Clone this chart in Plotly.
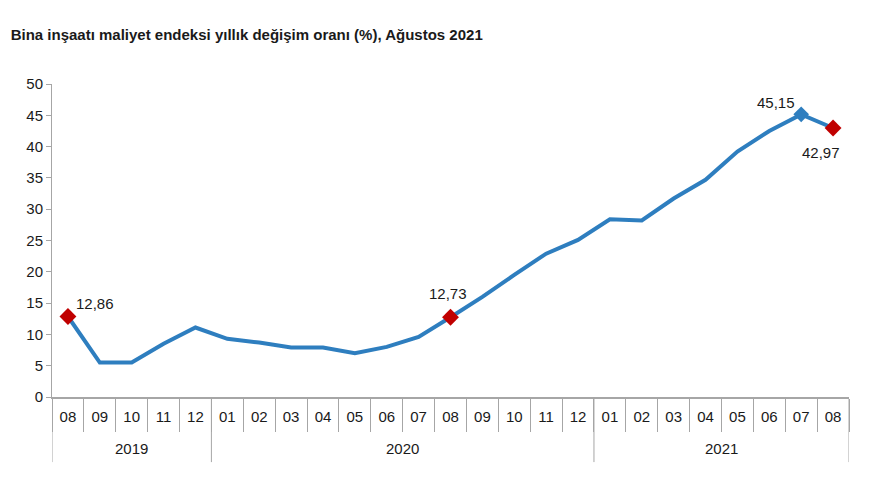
import plotly.graph_objects as go

years = ["2019"] * 5 + ["2020"] * 12 + ["2021"] * 8
months = ["08", "09", "10", "11", "12",
          "01", "02", "03", "04", "05", "06", "07", "08", "09", "10", "11", "12",
          "01", "02", "03", "04", "05", "06", "07", "08"]
values = [12.86, 5.5, 5.5, 8.5, 11.1,
          9.3, 8.7, 7.9, 7.9, 7.0, 8.0, 9.6, 12.73, 16.0, 19.5, 22.9, 25.1,
          28.4, 28.2, 31.7, 34.7, 39.2, 42.5, 45.15, 42.97]
labels = {0: "12,86", 12: "12,73", 23: "45,15", 24: "42,97"}
label_offset = {0: (27, 13), 12: (-3, 24), 23: (-25, 12), 24: (-12, -24)}
red_idx = [0, 12, 24]
blue_idx = [23]

FONT = "Liberation Sans, Arial"
BLUE = "#2E7EBF"
RED = "#C00000"
GRAY = "#a6a6a6"
TXT = "#1a1a1a"

xs = list(range(len(months)))

fig = go.Figure()
fig.add_trace(go.Scatter(
    x=xs, y=values, mode="lines",
    line=dict(color=BLUE, width=4), hoverinfo="skip", showlegend=False))
fig.add_trace(go.Scatter(
    x=[xs[i] for i in blue_idx], y=[values[i] for i in blue_idx], mode="markers",
    marker=dict(symbol="diamond", size=12, color=BLUE), showlegend=False))
fig.add_trace(go.Scatter(
    x=[xs[i] for i in red_idx], y=[values[i] for i in red_idx], mode="markers",
    marker=dict(symbol="diamond", size=13, color=RED), showlegend=False))

for i, t in labels.items():
    dx, dy = label_offset[i]
    fig.add_annotation(x=xs[i], y=values[i], text=t, showarrow=False,
                       xshift=dx, yshift=dy, xanchor="center", yanchor="middle",
                       font=dict(family=FONT, size=15, color=TXT))

# year groups: labels and dividers
groups = []
for i, yv in enumerate(years):
    if not groups or groups[-1][0] != yv:
        groups.append([yv, i, i])
    else:
        groups[-1][2] = i

bottom = -0.208
for yv, a, b in groups:
    fig.add_annotation(x=(a + b) / 2, y=-0.165, xref="x", yref="paper",
                       text=yv, showarrow=False, yanchor="middle",
                       font=dict(family=FONT, size=15, color=TXT))
boundaries = sorted(set([g[1] - 0.5 for g in groups] + [groups[-1][2] + 0.5]))
for bx in boundaries:
    fig.add_shape(type="line", xref="x", yref="paper", x0=bx, x1=bx, y0=0, y1=bottom,
                  line=dict(color=GRAY, width=1))

fig.update_layout(
    width=880, height=495,
    margin=dict(l=44, r=39, t=76, b=106),
    paper_bgcolor="white", plot_bgcolor="white",
    font=dict(family=FONT, size=15, color=TXT),
    title=dict(text="<b>Bina inşaatı maliyet endeksi yıllık değişim oranı (%), Ağustos 2021</b>",
               x=0.003, xanchor="left", y=0.946, yanchor="middle",
               font=dict(family=FONT, size=15, color=TXT)),
)
fig.update_xaxes(
    range=[-0.5, len(months) - 0.5], tickmode="array", tickvals=xs, ticktext=months,
    showline=True, linecolor=GRAY, linewidth=1.5, ticks="", showgrid=False, zeroline=False,
    tickfont=dict(family=FONT, size=15, color=TXT), ticklabelstandoff=5,
    minor=dict(tickmode="array", tickvals=[i - 0.5 for i in range(len(months) + 1)],
               ticks="outside", ticklen=33, tickcolor=GRAY, tickwidth=1, showgrid=False))
fig.update_yaxes(
    range=[0, 50], dtick=5, showline=True, linecolor=GRAY, linewidth=1,
    ticks="outside", ticklen=5, tickcolor=GRAY, showgrid=False, zeroline=False,
    tickfont=dict(family=FONT, size=15, color=TXT))

fig.write_html("out.html")
